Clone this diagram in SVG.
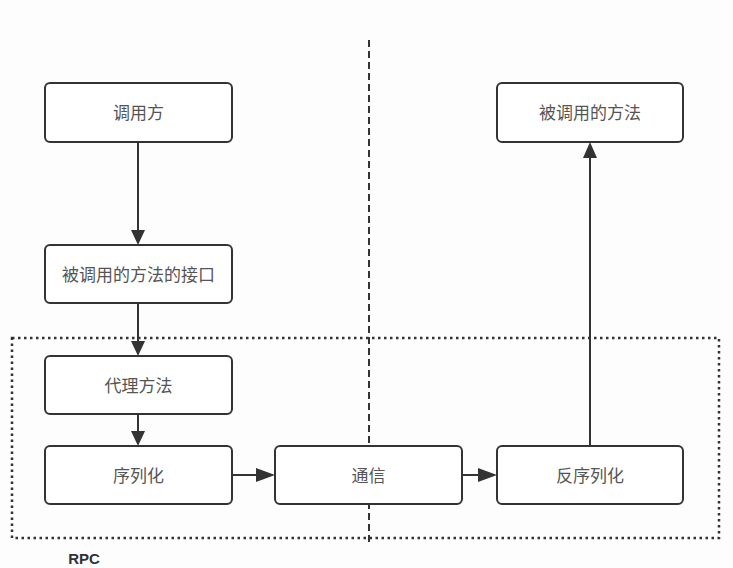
<svg xmlns="http://www.w3.org/2000/svg" width="733" height="568" viewBox="0 0 733 568">
<style>
.box{fill:#fff;stroke:#333;stroke-width:2}
.lbl{font-family:"Liberation Sans","Noto Sans CJK SC",sans-serif;font-size:17px;fill:#555;text-anchor:middle;dominant-baseline:central}
.edge{stroke:#333;stroke-width:2;fill:none}
.head{fill:#333}
</style>
<rect width="733" height="568" fill="#fdfdfd"/>
<g id="rpc-boundary">
<rect x="12" y="338" width="707" height="200" fill="none" stroke="#333" stroke-width="2.5" stroke-dasharray="2.5,3.5"/>
<text x="84" y="564" font-family="Liberation Sans,sans-serif" font-size="15" font-weight="bold" fill="#333" text-anchor="middle">RPC</text>
</g>
<g id="divider">
<line x1="369" y1="40" x2="369" y2="546" stroke="#333" stroke-width="2" stroke-dasharray="7,4"/>
</g>
<g id="connectors">
<line class="edge" x1="138" y1="142" x2="138" y2="232"/>
<line class="edge" x1="138" y1="303" x2="138" y2="343"/>
<line class="edge" x1="138" y1="414" x2="138" y2="433"/>
<line class="edge" x1="232" y1="475" x2="258" y2="475"/>
<line class="edge" x1="462" y1="475" x2="480" y2="475"/>
<line class="edge" x1="590" y1="446" x2="590" y2="156"/>
<path class="head" d="M131,230 L145,230 L138,245 z"/>
<path class="head" d="M131,341 L145,341 L138,356 z"/>
<path class="head" d="M131,431 L145,431 L138,446 z"/>
<path class="head" d="M256,468 L256,482 L275,475 z"/>
<path class="head" d="M478,468 L478,482 L497,475 z"/>
<path class="head" d="M583,158 L597,158 L590,142 z"/>
</g>
<g id="caller"><rect class="box" x="45" y="83" width="187" height="59" rx="5"/><text class="lbl" x="138.5" y="113">调用方</text></g>
<g id="interface"><rect class="box" x="45" y="245" width="187" height="58" rx="5"/><text class="lbl" x="138.5" y="275">被调用的方法的接口</text></g>
<g id="proxy"><rect class="box" x="45" y="356" width="187" height="58" rx="5"/><text class="lbl" x="138.5" y="386">代理方法</text></g>
<g id="serialize"><rect class="box" x="45" y="446" width="187" height="58" rx="5"/><text class="lbl" x="138.5" y="476">序列化</text></g>
<g id="comm"><rect class="box" x="275" y="446" width="187" height="58" rx="5"/><text class="lbl" x="368.5" y="476">通信</text></g>
<g id="deserialize"><rect class="box" x="497" y="446" width="186" height="58" rx="5"/><text class="lbl" x="590" y="476">反序列化</text></g>
<g id="callee"><rect class="box" x="497" y="83" width="186" height="59" rx="5"/><text class="lbl" x="590" y="113">被调用的方法</text></g>
</svg>
